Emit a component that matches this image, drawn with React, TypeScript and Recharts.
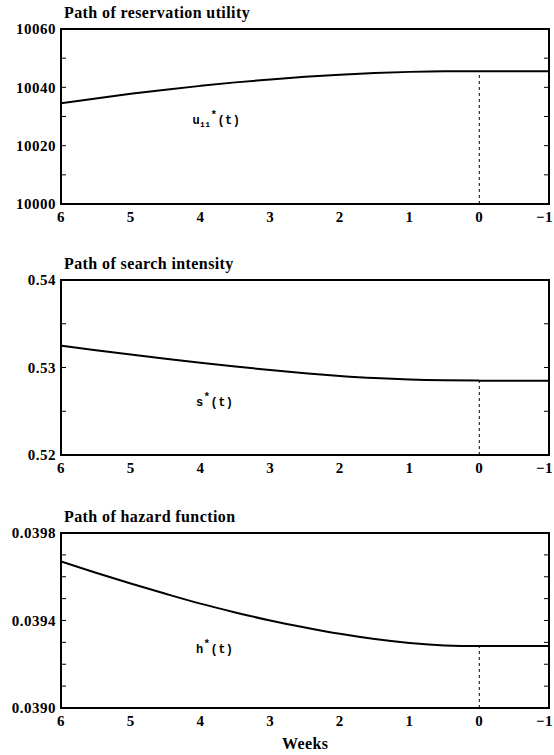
import React from "react";
import {
  LineChart, Line, XAxis, YAxis,
  ReferenceArea, ReferenceLine, ReferenceDot
} from "recharts";

// weeks before benefit exhaustion (0 = exhaustion)
const weeks = [6, 5.5, 5, 4.5, 4, 3.5, 3, 2.5, 2, 1.5, 1, 0.5, 0, -0.5, -1];
const weekTicks = [6, 5, 4, 3, 2, 1, 0, -1];

const utility = [10034.5, 10036.2, 10037.8, 10039.2, 10040.5, 10041.7, 10042.7, 10043.6, 10044.3, 10044.9, 10045.3, 10045.5, 10045.5, 10045.5, 10045.5];
const utilityTicks = [10000, 10010, 10020, 10030, 10040, 10050, 10060];
const utilityLabels = [10000, 10020, 10040, 10060];

const intensity = [0.5325, 0.53198, 0.53148, 0.531, 0.53054, 0.53011, 0.52971, 0.52935, 0.52904, 0.52879, 0.52862, 0.52853, 0.5285, 0.5285, 0.5285];
const intensityTicks = [0.52, 0.525, 0.53, 0.535, 0.54];
const intensityLabels = [0.52, 0.53, 0.54];

const hazard = [0.03967, 0.039618, 0.039569, 0.039522, 0.039477, 0.039437, 0.0394, 0.039368, 0.039339, 0.039315, 0.039297, 0.039286, 0.039283, 0.039283, 0.039283];
const hazardTicks = [0.039, 0.0391, 0.0392, 0.0393, 0.0394, 0.0395, 0.0396, 0.0397, 0.0398];
const hazardLabels = [0.039, 0.0394, 0.0398];

const SERIF = '"Liberation Serif", "Times New Roman", serif';
const MONO = '"Liberation Mono", "DejaVu Sans Mono", monospace';

const tickStyle = { fontSize: 15, fontWeight: 700, fill: "#000", fontFamily: SERIF, letterSpacing: 0.5 };

const fmtWeek = (v: number) => (v < 0 ? `\u2212${-v}` : `${v}`);

// last week label sits on the right edge, so keep it inside the page
function WeekTick({ x, y, payload }: any) {
  const last = payload.value === weekTicks[weekTicks.length - 1];
  return (
    <text
      x={last ? 553 : x} y={y} dy="0.71em" textAnchor={last ? "end" : "middle"}
      fontFamily={SERIF} fontSize={15} fontWeight={700} fill="#000" letterSpacing={0.5}
    >
      {fmtWeek(payload.value)}
    </text>
  );
}

function CurveLabel({ viewBox, name, sub }: any) {
  const x = viewBox.x;
  const y = viewBox.y;
  return (
    <text x={x} y={y + 4} fontFamily={MONO} fontSize={12} fontWeight={700} fill="#000" letterSpacing={0.4}>
      <tspan>{name}</tspan>
      {sub && <tspan dy={3} fontSize={8}>{sub}</tspan>}
      <tspan dy={sub ? -9 : -6} fontSize={11}>*</tspan>
      <tspan dy={6}>(t)</tspan>
    </text>
  );
}

function Panel({
  top, title, values, ticks, labels, digits, labelAt, name, sub,
}: {
  top: number; title: string; values: number[]; ticks: number[]; labels: number[];
  digits: number; labelAt: [number, number]; name: string; sub?: string;
}) {
  const rows = weeks.map((w, i) => ({ week: w, value: values[i] }));
  const lo = ticks[0];
  const hi = ticks[ticks.length - 1];
  const endValue = values[weeks.indexOf(0)];
  const fmt = (v: number) =>
    labels.some((l) => Math.abs(l - v) < 1e-9) ? v.toFixed(digits) : "";

  return (
    <div style={{ position: "absolute", left: 0, top }}>
      <div style={{ position: "absolute", left: 64, top: 4, fontFamily: SERIF, fontWeight: 700, fontSize: 16, letterSpacing: 0.4, whiteSpace: "nowrap" }}>
        {title}
      </div>
      <LineChart width={554} height={231} data={rows} margin={{ top: 29, right: 0, bottom: 0, left: 0 }}>
        <XAxis
          dataKey="week" type="number" domain={[-1, 6]} reversed ticks={weekTicks} interval={0}
          allowDataOverflow tickLine={false} axisLine={false} tickSize={4} tickMargin={3} height={27}
          tick={<WeekTick />}
        />
        <YAxis
          yAxisId="l" type="number" domain={[lo, hi]} ticks={ticks} interval={0} allowDataOverflow
          width={61} tickSize={-5} tickMargin={10} axisLine={false} tickLine={{ stroke: "#000", strokeWidth: 1 }}
          tick={tickStyle} tickFormatter={fmt}
        />
        <YAxis
          yAxisId="r" orientation="right" type="number" domain={[lo, hi]} ticks={ticks} interval={0} allowDataOverflow
          width={5} tickSize={-5} tickMargin={0} axisLine={false} tickLine={{ stroke: "#000", strokeWidth: 1 }}
          tick={tickStyle} tickFormatter={() => ""}
        />
        <ReferenceArea yAxisId="l" x1={6} x2={-1} y1={lo} y2={hi} fill="none" stroke="#000" strokeWidth={2} />
        <ReferenceLine
          yAxisId="l" segment={[{ x: 0, y: lo }, { x: 0, y: endValue }]}
          stroke="#000" strokeWidth={1} strokeDasharray="3 3"
        />
        <Line
          yAxisId="l" dataKey="value" type="monotone" stroke="#000" strokeWidth={2}
          dot={false} isAnimationActive={false}
        />
        <ReferenceDot
          yAxisId="l" x={labelAt[0]} y={labelAt[1]} r={1} fill="none" stroke="none"
          label={(p: any) => <CurveLabel {...p} name={name} sub={sub} />}
        />
      </LineChart>
    </div>
  );
}

export default function App() {
  return (
    <div style={{ position: "absolute", left: 0, top: 0, width: 554, height: 755, background: "#fff" }}>
      <Panel top={0} title="Path of reservation utility" values={utility} ticks={utilityTicks}
        labels={utilityLabels} digits={0} labelAt={[4.1, 10028.5]} name="u" sub="11" />
      <Panel top={251} title="Path of search intensity" values={intensity} ticks={intensityTicks}
        labels={intensityLabels} digits={2} labelAt={[4.05, 0.526]} name="s" />
      <Panel top={504} title="Path of hazard function" values={hazard} ticks={hazardTicks}
        labels={hazardLabels} digits={4} labelAt={[4.05, 0.039265]} name="h" />
      <div style={{ position: "absolute", left: 282, top: 735, fontFamily: SERIF, fontWeight: 700, fontSize: 16, letterSpacing: 0.4 }}>
        Weeks
      </div>
    </div>
  );
}
